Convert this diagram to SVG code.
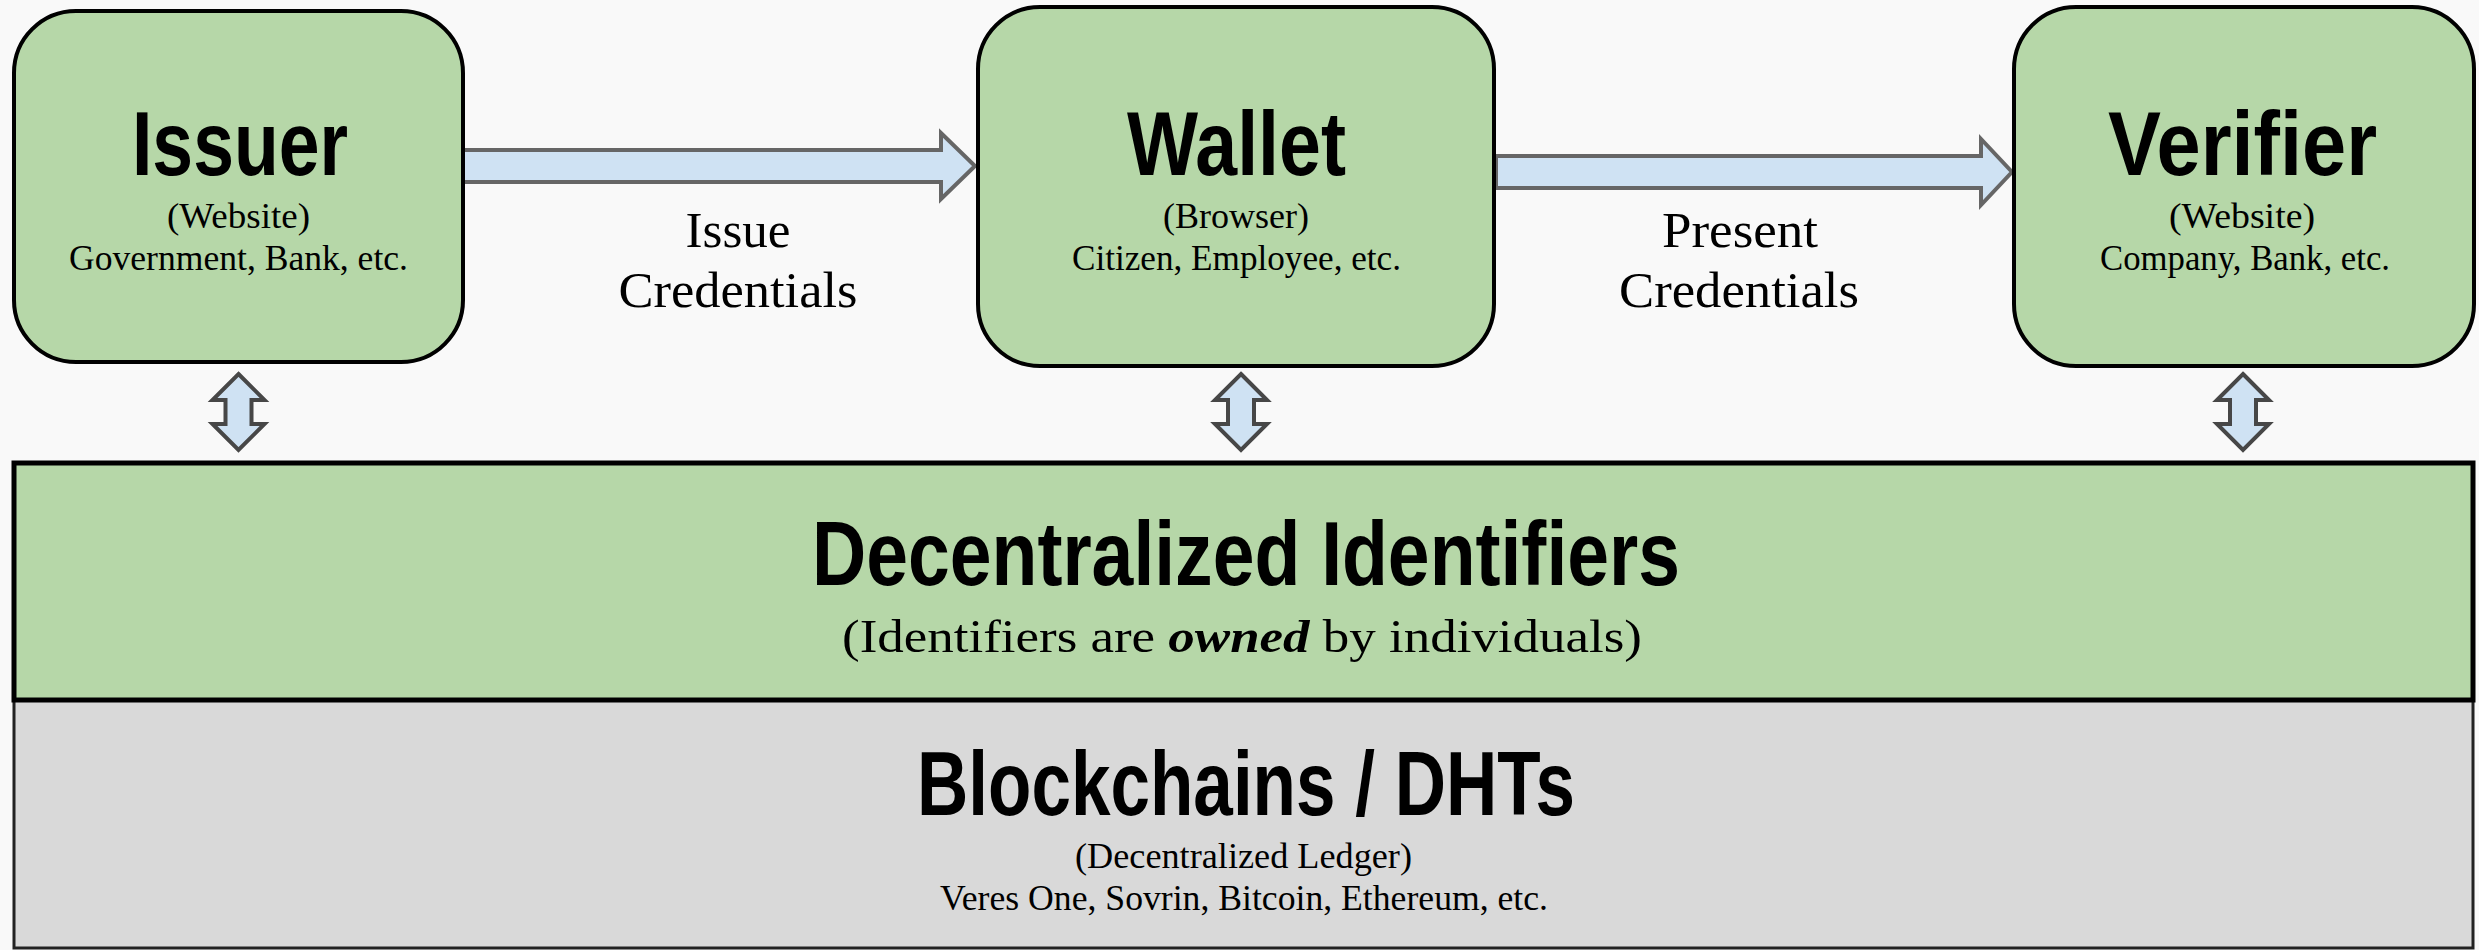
<svg xmlns="http://www.w3.org/2000/svg" width="2479" height="950" viewBox="0 0 2479 950">
<style>
.box{fill:#b6d7a8;stroke:#000;stroke-width:4}
.title{font-family:"Liberation Sans Narrow","Liberation Sans",sans-serif;font-weight:bold;font-size:91px;fill:#000;text-anchor:middle}
.sub{font-family:"Liberation Serif",serif;font-size:35px;fill:#000;text-anchor:middle}
.lbl{font-family:"Liberation Serif",serif;font-size:51px;fill:#000;text-anchor:middle}
.harrow{fill:#cfe2f3;stroke:#666;stroke-width:4;stroke-linejoin:miter}
.varrow{fill:#cfe2f3;stroke:#474747;stroke-width:4;stroke-linejoin:miter}
</style>
<rect x="0" y="0" width="2479" height="950" fill="#f9f9f9"/>

<g id="connectors">
  <polygon class="harrow" points="462,150 941,150 941,133 975,166 941,199 941,182 462,182"/>
  <polygon class="harrow" points="1496,156 1981,156 1981,139 2012,172 1981,205 1981,188 1496,188"/>
  <polygon class="varrow" points="238.5,374 264.5,400 251.5,400 251.5,424 264.5,424 238.5,450 212.5,424 225.5,424 225.5,400 212.5,400"/>
  <polygon class="varrow" points="1241,374 1267,400 1254,400 1254,424 1267,424 1241,450 1215,424 1228,424 1228,400 1215,400"/>
  <polygon class="varrow" points="2243,374 2269,400 2256,400 2256,424 2269,424 2243,450 2217,424 2230,424 2230,400 2217,400"/>
  <text class="lbl" x="738" y="247" textLength="105" lengthAdjust="spacingAndGlyphs">Issue</text>
  <text class="lbl" x="738" y="307" textLength="239" lengthAdjust="spacingAndGlyphs">Credentials</text>
  <text class="lbl" x="1740" y="247" textLength="156" lengthAdjust="spacingAndGlyphs">Present</text>
  <text class="lbl" x="1739" y="307" textLength="240" lengthAdjust="spacingAndGlyphs">Credentials</text>
</g>

<g id="issuer">
  <rect class="box" x="14" y="11" width="449" height="351" rx="62" ry="62"/>
  <text class="title" x="240" y="175" textLength="216" lengthAdjust="spacingAndGlyphs">Issuer</text>
  <text class="sub" x="238.5" y="228" textLength="143" lengthAdjust="spacingAndGlyphs">(Website)</text>
  <text class="sub" x="238.5" y="270" textLength="339" lengthAdjust="spacingAndGlyphs">Government, Bank, etc.</text>
</g>

<g id="wallet">
  <rect class="box" x="978" y="7" width="516" height="359" rx="62" ry="62"/>
  <text class="title" x="1236.5" y="175" textLength="219" lengthAdjust="spacingAndGlyphs">Wallet</text>
  <text class="sub" x="1236" y="228" textLength="146" lengthAdjust="spacingAndGlyphs">(Browser)</text>
  <text class="sub" x="1236.5" y="270" textLength="329" lengthAdjust="spacingAndGlyphs">Citizen, Employee, etc.</text>
</g>

<g id="verifier">
  <rect class="box" x="2014" y="7" width="460" height="359" rx="62" ry="62"/>
  <text class="title" x="2242.5" y="175" textLength="269" lengthAdjust="spacingAndGlyphs">Verifier</text>
  <text class="sub" x="2242" y="228" textLength="146" lengthAdjust="spacingAndGlyphs">(Website)</text>
  <text class="sub" x="2245" y="270" textLength="290" lengthAdjust="spacingAndGlyphs">Company, Bank, etc.</text>
</g>

<g id="blockchains">
  <rect x="14" y="700" width="2459" height="248" fill="#d9d9d9" stroke="#222" stroke-width="3"/>
  <text class="title" x="1246" y="815" textLength="658" lengthAdjust="spacingAndGlyphs">Blockchains / DHTs</text>
  <text class="sub" x="1243.5" y="868" textLength="337" lengthAdjust="spacingAndGlyphs">(Decentralized Ledger)</text>
  <text class="sub" x="1244" y="910" textLength="608" lengthAdjust="spacingAndGlyphs">Veres One, Sovrin, Bitcoin, Ethereum, etc.</text>
</g>

<g id="decentralized-identifiers">
  <rect x="14" y="463" width="2459" height="237" fill="#b6d7a8" stroke="#000" stroke-width="5"/>
  <text class="title" x="1246" y="585" textLength="868" lengthAdjust="spacingAndGlyphs">Decentralized Identifiers</text>
  <text class="sub" x="1242" y="652" style="font-size:47px" textLength="800" lengthAdjust="spacingAndGlyphs">(Identifiers are <tspan font-weight="bold" font-style="italic">owned</tspan> by individuals)</text>
</g>
</svg>
